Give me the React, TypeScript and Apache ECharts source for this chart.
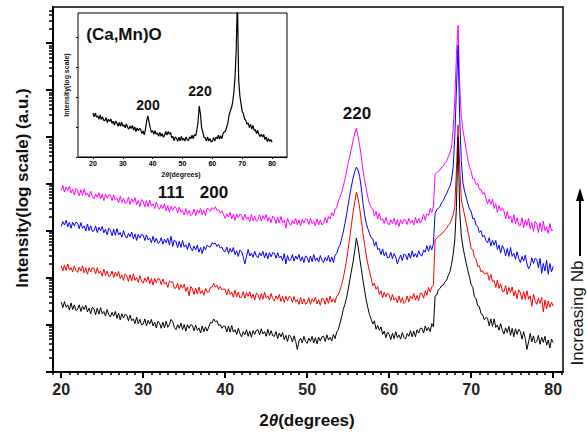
import React, { useEffect, useRef } from "react";
import * as echarts from "echarts";

// 2θ sampling grid (degrees), main plot: 20 → 80 in 0.2° steps; inset: 20 → 80 in 0.4° steps
const mainStart = 20;
const mainStep = 0.2;
const mainCount = 301;
const insetStep = 0.4;
const insetCount = 151;
const twoTheta = Array.from({ length: mainCount }, (_, i) => Math.round((mainStart + i * mainStep) * 10) / 10);
const twoThetaInset = Array.from({ length: insetCount }, (_, i) => Math.round((mainStart + i * insetStep) * 10) / 10);

// log10(intensity), arbitrary units
const sampleBlack = [
  1.49, 1.37, 1.50, 1.38, 1.43, 1.32, 1.47, 1.33, 1.43, 1.31,
  1.33, 1.43, 1.29, 1.40, 1.33, 1.42, 1.28, 1.36, 1.24, 1.38,
  1.34, 1.22, 1.36, 1.23, 1.37, 1.24, 1.29, 1.19, 1.33, 1.22,
  1.17, 1.27, 1.19, 1.29, 1.14, 1.25, 1.11, 1.24, 1.15, 1.23,
  1.21, 1.09, 1.21, 1.09, 1.13, 1.03, 1.17, 1.03, 1.12, 1.00,
  1.02, 1.13, 0.98, 1.10, 1.02, 1.12, 0.98, 1.06, 0.94, 1.08,
  1.04, 0.93, 1.06, 0.94, 1.08, 0.95, 1.01, 1.12, 1.07, 0.95,
  0.90, 1.01, 0.93, 1.04, 0.90, 1.01, 0.87, 1.01, 0.93, 1.01,
  0.99, 0.88, 1.00, 0.89, 0.94, 0.83, 0.98, 0.86, 0.96, 0.87,
  0.96, 1.06, 1.04, 1.13, 1.07, 1.09, 0.99, 1.01, 0.93, 0.98,
  0.97, 0.85, 0.98, 0.85, 0.99, 0.85, 0.90, 0.80, 0.93, 0.82,
  0.75, 0.86, 0.79, 0.90, 0.76, 0.87, 0.74, 0.88, 0.80, 0.89,
  0.90, 0.79, 0.92, 0.81, 0.86, 0.76, 0.91, 0.78, 0.88, 0.77,
  0.76, 0.86, 0.71, 0.83, 0.75, 0.84, 0.69, 0.78, 0.65, 0.79,
  0.75, 0.64, 0.77, 0.65, 0.48, 0.66, 0.72, 0.62, 0.76, 0.65,
  0.61, 0.72, 0.65, 0.76, 0.62, 0.73, 0.60, 0.74, 0.66, 0.75,
  0.76, 0.65, 0.79, 0.68, 0.74, 0.66, 0.80, 0.71, 0.85, 0.90,
  1.04, 1.17, 1.33, 1.44, 1.58, 1.76, 1.96, 2.15, 2.35, 2.58,
  2.85, 2.68, 2.43, 2.20, 1.96, 1.74, 1.53, 1.37, 1.22, 1.13,
  1.02, 1.09, 0.91, 0.99, 0.89, 0.96, 0.80, 0.87, 0.73, 0.85,
  0.80, 0.69, 0.83, 0.71, 0.86, 0.73, 0.79, 0.70, 0.84, 0.74,
  0.70, 0.82, 0.76, 0.88, 0.75, 0.87, 0.75, 0.90, 0.83, 0.93,
  0.93, 0.83, 0.98, 0.88, 0.95, 0.86, 1.03, 0.96, 1.62, 1.64,
  1.75, 1.78, 1.84, 1.85, 1.92, 1.95, 2.05, 2.13, 2.29, 2.50,
  2.81, 3.50, 5.00, 3.40, 2.90, 2.66, 2.48, 2.31, 2.16, 2.02,
  1.86, 1.80, 1.60, 1.56, 1.41, 1.39, 1.24, 1.22, 1.11, 1.16,
  1.14, 0.98, 1.13, 0.97, 1.13, 0.95, 1.00, 0.89, 1.03, 0.89,
  0.81, 0.94, 0.84, 0.97, 0.78, 0.93, 0.75, 0.92, 0.80, 0.91,
  0.86, 0.70, 0.86, 0.71, 0.48, 0.64, 0.82, 0.64, 0.77, 0.62,
  0.65, 0.78, 0.59, 0.74, 0.63, 0.76, 0.57, 0.68, 0.51, 0.70,
  0.63,
];

const sampleRed = [
  2.26, 2.15, 2.28, 2.16, 2.30, 2.17, 2.22, 2.13, 2.26, 2.16,
  2.12, 2.23, 2.15, 2.26, 2.11, 2.22, 2.08, 2.22, 2.13, 2.22,
  2.21, 2.09, 2.22, 2.10, 2.15, 2.04, 2.19, 2.05, 2.15, 2.03,
  2.05, 2.15, 2.01, 2.12, 2.04, 2.14, 1.99, 2.07, 1.95, 2.09,
  2.05, 1.93, 2.07, 1.94, 2.09, 1.95, 2.01, 1.91, 2.05, 1.94,
  1.89, 2.00, 1.92, 2.03, 1.88, 1.99, 1.85, 1.99, 1.90, 1.99,
  1.98, 1.86, 1.98, 1.87, 1.91, 1.80, 1.94, 1.91, 1.92, 1.78,
  1.79, 1.89, 1.75, 1.86, 1.78, 1.87, 1.72, 1.81, 1.62, 1.82,
  1.77, 1.65, 1.79, 1.66, 1.81, 1.67, 1.73, 1.63, 1.78, 1.70,
  1.70, 1.80, 1.81, 1.89, 1.81, 1.85, 1.76, 1.82, 1.75, 1.77,
  1.76, 1.64, 1.77, 1.65, 1.70, 1.59, 1.74, 1.60, 1.70, 1.58,
  1.60, 1.71, 1.57, 1.69, 1.61, 1.71, 1.57, 1.66, 1.53, 1.68,
  1.65, 1.54, 1.67, 1.55, 1.70, 1.57, 1.62, 1.53, 1.67, 1.56,
  1.51, 1.62, 1.55, 1.65, 1.50, 1.61, 1.48, 1.61, 1.52, 1.61,
  1.59, 1.48, 1.61, 1.49, 1.54, 1.44, 1.59, 1.45, 1.56, 1.44,
  1.47, 1.58, 1.44, 1.56, 1.49, 1.59, 1.45, 1.54, 1.42, 1.57,
  1.55, 1.44, 1.58, 1.46, 1.62, 1.49, 1.56, 1.48, 1.62, 1.64,
  1.74, 1.86, 2.00, 2.18, 2.38, 2.62, 2.87, 3.14, 3.40, 3.63,
  3.83, 3.70, 3.49, 3.22, 2.96, 2.72, 2.49, 2.30, 2.14, 2.00,
  1.84, 1.89, 1.76, 1.82, 1.65, 1.73, 1.58, 1.70, 1.60, 1.68,
  1.64, 1.52, 1.65, 1.53, 1.58, 1.47, 1.62, 1.48, 1.58, 1.46,
  1.50, 1.62, 1.49, 1.62, 1.56, 1.67, 1.53, 1.63, 1.52, 1.68,
  1.67, 1.57, 1.73, 1.63, 1.80, 1.70, 1.81, 1.86, 2.81, 2.85,
  2.89, 2.90, 2.95, 2.97, 3.03, 3.05, 3.12, 3.16, 3.24, 3.35,
  3.51, 4.30, 5.26, 4.40, 3.66, 3.51, 3.34, 3.17, 3.00, 2.83,
  2.62, 2.60, 2.44, 2.41, 2.25, 2.26, 2.13, 2.16, 2.09, 2.10,
  2.11, 1.95, 2.08, 1.92, 1.95, 1.80, 1.96, 1.78, 1.88, 1.72,
  1.71, 1.84, 1.65, 1.80, 1.69, 1.81, 1.62, 1.73, 1.56, 1.75,
  1.69, 1.54, 1.71, 1.54, 1.73, 1.55, 1.62, 1.40, 1.66, 1.51,
  1.44, 1.57, 1.46, 1.59, 1.28, 1.53, 1.34, 1.51, 1.38, 1.49,
  1.40,
];

const sampleBlue = [
  3.10, 3.20, 3.13, 3.23, 3.09, 3.19, 3.06, 3.19, 3.11, 3.19,
  3.17, 3.05, 3.18, 3.06, 3.11, 3.00, 3.15, 3.01, 3.11, 2.99,
  3.01, 3.11, 2.97, 3.08, 3.01, 3.10, 2.96, 3.04, 2.92, 3.06,
  3.02, 2.90, 3.04, 2.91, 3.05, 2.92, 2.97, 2.87, 3.01, 2.90,
  2.85, 2.95, 2.88, 2.98, 2.83, 2.94, 2.80, 2.93, 2.85, 2.93,
  2.91, 2.80, 2.92, 2.81, 2.85, 2.75, 2.89, 2.76, 2.85, 2.74,
  2.76, 2.86, 2.72, 2.83, 2.75, 2.85, 2.70, 2.89, 2.67, 2.81,
  2.77, 2.65, 2.78, 2.65, 2.80, 2.66, 2.71, 2.61, 2.75, 2.64,
  2.58, 2.68, 2.60, 2.70, 2.55, 2.65, 2.52, 2.67, 2.60, 2.70,
  2.67, 2.66, 2.75, 2.73, 2.74, 2.67, 2.72, 2.64, 2.66, 2.58,
  2.56, 2.66, 2.52, 2.63, 2.55, 2.65, 2.50, 2.58, 2.46, 2.60,
  2.56, 2.45, 2.30, 2.46, 2.61, 2.47, 2.53, 2.44, 2.57, 2.47,
  2.43, 2.54, 2.47, 2.57, 2.43, 2.54, 2.41, 2.54, 2.45, 2.54,
  2.53, 2.42, 2.54, 2.43, 2.47, 2.37, 2.52, 2.30, 2.48, 2.37,
  2.39, 2.50, 2.36, 2.47, 2.40, 2.50, 2.36, 2.45, 2.33, 2.47,
  2.44, 2.33, 2.47, 2.35, 2.50, 2.37, 2.43, 2.34, 2.48, 2.38,
  2.33, 2.44, 2.37, 2.48, 2.34, 2.45, 2.33, 2.49, 2.52, 2.64,
  2.70, 2.84, 2.98, 3.16, 3.34, 3.56, 3.77, 3.96, 4.13, 4.27,
  4.36, 4.30, 4.16, 3.92, 3.60, 3.35, 3.17, 3.05, 2.95, 2.86,
  2.84, 2.68, 2.77, 2.61, 2.63, 2.50, 2.62, 2.47, 2.55, 2.43,
  2.44, 2.55, 2.41, 2.52, 2.45, 2.30, 2.40, 2.49, 2.37, 2.51,
  2.49, 2.39, 2.53, 2.42, 2.58, 2.45, 2.52, 2.44, 2.58, 2.49,
  2.47, 2.60, 2.55, 2.69, 2.57, 2.69, 2.60, 2.74, 3.38, 3.45,
  3.49, 3.52, 3.61, 3.65, 3.74, 3.79, 3.88, 3.95, 4.08, 4.35,
  5.00, 6.00, 6.96, 5.40, 4.50, 4.02, 3.85, 3.72, 3.58, 3.47,
  3.42, 3.26, 3.27, 3.12, 3.10, 2.97, 3.01, 2.88, 2.91, 2.80,
  2.75, 2.86, 2.68, 2.80, 2.70, 2.80, 2.61, 2.70, 2.53, 2.69,
  2.62, 2.47, 2.63, 2.46, 2.65, 2.46, 2.53, 2.40, 2.56, 2.42,
  2.33, 2.46, 2.36, 2.49, 2.30, 2.20, 2.26, 2.43, 2.31, 2.42,
  2.40, 2.22, 2.42, 2.10, 2.31, 2.15, 2.38, 2.08, 2.31, 2.13,
  2.25,
];

const sampleMagenta = [
  3.87, 3.97, 3.83, 3.94, 3.86, 3.96, 3.81, 3.89, 3.77, 3.91,
  3.87, 3.75, 3.88, 3.76, 3.90, 3.76, 3.81, 3.72, 3.85, 3.74,
  3.69, 3.79, 3.72, 3.82, 3.68, 3.78, 3.65, 3.78, 3.70, 3.78,
  3.76, 3.65, 3.77, 3.66, 3.70, 3.60, 3.74, 3.61, 3.70, 3.59,
  3.61, 3.72, 3.57, 3.69, 3.61, 3.71, 3.56, 3.65, 3.52, 3.67,
  3.63, 3.51, 3.65, 3.52, 3.66, 3.53, 3.58, 3.48, 3.62, 3.51,
  3.46, 3.56, 3.48, 3.58, 3.43, 3.54, 3.40, 3.53, 3.44, 3.52,
  3.50, 3.39, 3.51, 3.40, 3.44, 3.34, 3.48, 3.35, 3.44, 3.33,
  3.36, 3.47, 3.33, 3.45, 3.38, 3.48, 3.35, 3.44, 3.33, 3.49,
  3.46, 3.42, 3.50, 3.46, 3.52, 3.44, 3.45, 3.38, 3.43, 3.35,
  3.27, 3.37, 3.30, 3.40, 3.26, 3.36, 3.23, 3.36, 3.28, 3.36,
  3.34, 3.23, 3.36, 3.25, 3.30, 3.20, 3.35, 3.22, 3.32, 3.21,
  3.24, 3.35, 3.21, 3.33, 3.25, 3.35, 3.21, 3.30, 3.18, 3.32,
  3.28, 3.16, 3.30, 3.17, 3.31, 3.18, 3.23, 3.06, 3.27, 3.17,
  3.12, 3.23, 3.16, 3.27, 3.13, 3.24, 3.11, 3.25, 3.17, 3.26,
  3.25, 3.14, 3.27, 3.16, 3.21, 3.11, 3.26, 3.13, 3.24, 3.13,
  3.17, 3.29, 3.17, 3.31, 3.26, 3.39, 3.32, 3.47, 3.49, 3.64,
  3.72, 3.82, 3.95, 4.10, 4.27, 4.44, 4.60, 4.76, 4.93, 5.08,
  5.19, 5.02, 4.82, 4.60, 4.30, 4.08, 3.90, 3.72, 3.58, 3.50,
  3.48, 3.32, 3.42, 3.26, 3.38, 3.23, 3.27, 3.16, 3.29, 3.18,
  3.13, 3.24, 3.16, 3.27, 3.13, 3.24, 3.10, 3.24, 3.15, 3.24,
  3.24, 3.14, 3.27, 3.17, 3.23, 3.13, 3.29, 3.17, 3.27, 3.17,
  3.24, 3.36, 3.23, 3.37, 3.33, 3.48, 3.39, 3.53, 4.21, 4.24,
  4.28, 4.30, 4.36, 4.38, 4.45, 4.48, 4.58, 4.66, 4.79, 5.15,
  5.79, 6.74, 7.38, 6.11, 5.43, 5.15, 4.94, 4.72, 4.51, 4.37,
  4.26, 4.11, 4.11, 3.99, 4.01, 3.89, 3.88, 3.79, 3.82, 3.70,
  3.58, 3.68, 3.57, 3.68, 3.48, 3.58, 3.40, 3.54, 3.43, 3.50,
  3.43, 3.26, 3.42, 3.26, 3.32, 3.17, 3.35, 3.16, 3.28, 3.12,
  3.12, 3.28, 3.07, 3.24, 3.12, 3.27, 3.05, 3.18, 2.99, 3.21,
  3.15, 2.97, 3.18, 2.99, 3.21, 3.01, 3.09, 2.95, 3.16, 3.00,
  3.02,
];

// Inset: (Ca,Mn)O reference pattern, log10(intensity)
const caMnO = [
  1.46, 1.34, 1.46, 1.33, 1.37, 1.26, 1.40, 1.25, 1.34, 1.22,
  1.21, 1.31, 1.15, 1.26, 1.18, 1.27, 1.12, 1.19, 1.06, 1.20,
  1.14, 1.02, 1.15, 1.02, 1.16, 1.02, 1.07, 0.97, 1.10, 0.99,
  0.93, 1.03, 0.95, 1.05, 0.90, 1.00, 0.85, 0.97, 0.88, 0.95,
  0.92, 0.78, 0.87, 0.74, 0.93, 1.20, 1.37, 1.16, 0.97, 0.82,
  0.88, 0.76, 0.88, 0.76, 0.80, 0.69, 0.83, 0.69, 0.78, 0.66,
  0.72, 0.85, 0.73, 0.85, 0.76, 0.82, 0.64, 0.69, 0.54, 0.67,
  0.63, 0.52, 0.66, 0.54, 0.69, 0.56, 0.62, 0.53, 0.67, 0.57,
  0.55, 0.67, 0.61, 0.73, 0.61, 0.75, 0.70, 0.90, 1.15, 1.70,
  1.45, 0.98, 0.84, 0.65, 0.65, 0.53, 0.67, 0.53, 0.62, 0.50,
  0.53, 0.65, 0.53, 0.66, 0.61, 0.73, 0.60, 0.71, 0.61, 0.79,
  0.84, 0.86, 1.00, 1.13, 1.40, 1.53, 1.64, 1.82, 2.15, 2.67,
  3.60, 5.30, 2.60, 2.05, 1.77, 1.52, 1.44, 1.27, 1.22, 1.10,
  1.13, 0.98, 1.09, 0.93, 1.05, 0.88, 0.91, 0.78, 0.89, 0.75,
  0.68, 0.76, 0.67, 0.75, 0.58, 0.67, 0.51, 0.62, 0.52, 0.58,
  0.50,
];

const xTickLabels = [20, 30, 40, 50, 60, 70, 80];
const mainDecades = [0, 1, 2, 3, 4, 5, 6, 7];
const insetDecades = [0, 1, 2, 3, 4];

const FONT = "'Liberation Sans', Arial, sans-serif";

export default function App() {
  const ref = useRef<HTMLDivElement>(null);

  useEffect(() => {
    if (!ref.current) return;
    const chart = echarts.init(ref.current, undefined, { renderer: "svg" });

    const yMax = 7.77;
    const minorLog: number[] = [];
    for (const k of mainDecades) {
      for (let m = 2; m <= 9; m++) {
        const v = k + Math.log10(m);
        if (v < yMax) minorLog.push(v);
      }
    }
    const minorX: number[] = [];
    for (let d = 19; d <= 81; d++) minorX.push(d);

    const pairs = (xs: number[], ys: number[]) => xs.map((x, i) => [x, ys[i]]);

    const mainSeries = [
      { name: "magenta", data: sampleMagenta, color: "#ff00ff" },
      { name: "blue", data: sampleBlue, color: "#0000ff" },
      { name: "red", data: sampleRed, color: "#ff0000" },
      { name: "black", data: sampleBlack, color: "#000000" },
    ].map((s) => ({
      type: "line",
      name: s.name,
      xAxisIndex: 0,
      yAxisIndex: 0,
      data: pairs(twoTheta, s.data),
      showSymbol: false,
      symbol: "none",
      lineStyle: { color: s.color, width: 1 },
      itemStyle: { color: s.color },
      clip: true,
      z: 3,
    }));

    const txt = (
      text: string,
      x: number,
      y: number,
      size: number,
      weight: string = "bold",
      rotation = 0,
      rich?: any
    ) => ({
      type: "text",
      x,
      y,
      rotation,
      z: 10,
      style: {
        text,
        fill: "#111",
        fontSize: size,
        fontWeight: weight,
        fontFamily: FONT,
        align: "center",
        verticalAlign: "middle",
        textAlign: "center",
        textVerticalAlign: "middle",
        rich,
      },
    });

    const thetaRich = (size: number) => ({
      t: { fontStyle: "italic", fontWeight: "bold", fontSize: size, fontFamily: FONT, fill: "#111", color: "#111" },
    });

    chart.setOption({
      animation: false,
      backgroundColor: "#ffffff",
      grid: [
        { left: 53, right: 24, top: 7, bottom: 62, show: true, borderColor: "#000", borderWidth: 1.5, backgroundColor: "transparent" },
        { left: 78, top: 13, width: 209, height: 144, show: true, borderColor: "#000", borderWidth: 1, backgroundColor: "#fff", z: 5 },
      ],
      xAxis: [
        {
          type: "value",
          gridIndex: 0,
          min: 19,
          max: 81.2,
          position: "bottom",
          axisLine: { show: true, lineStyle: { color: "#000", width: 2 } },
          axisTick: { show: true, inside: false, length: 6, customValues: xTickLabels, lineStyle: { color: "#000", width: 2 } },
          axisLabel: { show: true, customValues: xTickLabels, fontSize: 16, fontWeight: "bold", fontFamily: FONT, color: "#222", margin: 9 },
          splitLine: { show: false },
        },
        {
          type: "value",
          gridIndex: 0,
          min: 19,
          max: 81.2,
          position: "bottom",
          axisLine: { show: false },
          axisTick: { show: true, inside: false, length: 3, customValues: minorX, lineStyle: { color: "#000", width: 1.5 } },
          axisLabel: { show: false },
          splitLine: { show: false },
        },
        {
          type: "value",
          gridIndex: 1,
          min: 15,
          max: 85,
          position: "bottom",
          axisLine: { show: true, lineStyle: { color: "#000", width: 1 } },
          axisTick: { show: true, inside: false, length: 2, customValues: xTickLabels, lineStyle: { color: "#000", width: 1 } },
          axisLabel: { show: true, customValues: xTickLabels, fontSize: 7, fontWeight: "bold", fontFamily: FONT, color: "#000", margin: 3 },
          splitLine: { show: false },
        },
      ],
      yAxis: [
        {
          type: "value",
          gridIndex: 0,
          min: 0,
          max: yMax,
          position: "left",
          axisLine: { show: true, lineStyle: { color: "#000", width: 2 } },
          axisTick: { show: true, inside: false, length: 7, customValues: mainDecades, lineStyle: { color: "#000", width: 2 } },
          axisLabel: { show: false },
          splitLine: { show: false },
        },
        {
          type: "value",
          gridIndex: 0,
          min: 0,
          max: yMax,
          position: "left",
          axisLine: { show: false },
          axisTick: { show: true, inside: false, length: 4, customValues: minorLog, lineStyle: { color: "#000", width: 1.5 } },
          axisLabel: { show: false },
          splitLine: { show: false },
        },
        {
          type: "value",
          gridIndex: 1,
          min: 0,
          max: 4.8,
          position: "left",
          axisLine: { show: true, lineStyle: { color: "#000", width: 1 } },
          axisTick: { show: true, inside: false, length: 2, customValues: insetDecades, lineStyle: { color: "#000", width: 1 } },
          axisLabel: { show: false },
          splitLine: { show: false },
        },
      ],
      series: [
        ...mainSeries,
        {
          type: "line",
          name: "(Ca,Mn)O",
          xAxisIndex: 2,
          yAxisIndex: 2,
          data: pairs(twoThetaInset, caMnO),
          showSymbol: false,
          symbol: "none",
          lineStyle: { color: "#000", width: 1.2 },
          clip: true,
          z: 6,
        },
      ],
      graphic: [
        txt("Intensity(log scale) (a.u.)", 22, 188, 17, "bold", Math.PI / 2),
        txt("2{t|θ}(degrees)", 307, 420, 17, "bold", 0, thetaRich(17)),
        txt("111", 171, 192, 17),
        txt("200", 214, 192, 17),
        txt("220", 357, 113, 17),
        txt("(Ca,Mn)O", 124, 34, 17),
        txt("200", 148, 105, 14),
        txt("220", 200, 91, 14),
        txt("2{t|θ}(degrees)", 181, 174, 7, "bold", 0, thetaRich(7)),
        txt("Intensity(log scale)", 66, 85, 7, "bold", Math.PI / 2),
        txt("Increasing Nb", 577, 313, 17, "normal", Math.PI / 2),
        {
          type: "line",
          z: 10,
          shape: { x1: 580, y1: 256, x2: 580, y2: 198 },
          style: { stroke: "#000", lineWidth: 2 },
        },
        {
          type: "polygon",
          z: 10,
          shape: { points: [[580, 188], [576, 201], [584, 201]] },
          style: { fill: "#000" },
        },
      ],
    });

    return () => chart.dispose();
  }, []);

  return (
    <div
      ref={ref}
      style={{ position: "absolute", left: 0, top: 0, width: 587, height: 434, background: "#fff" }}
    />
  );
}
